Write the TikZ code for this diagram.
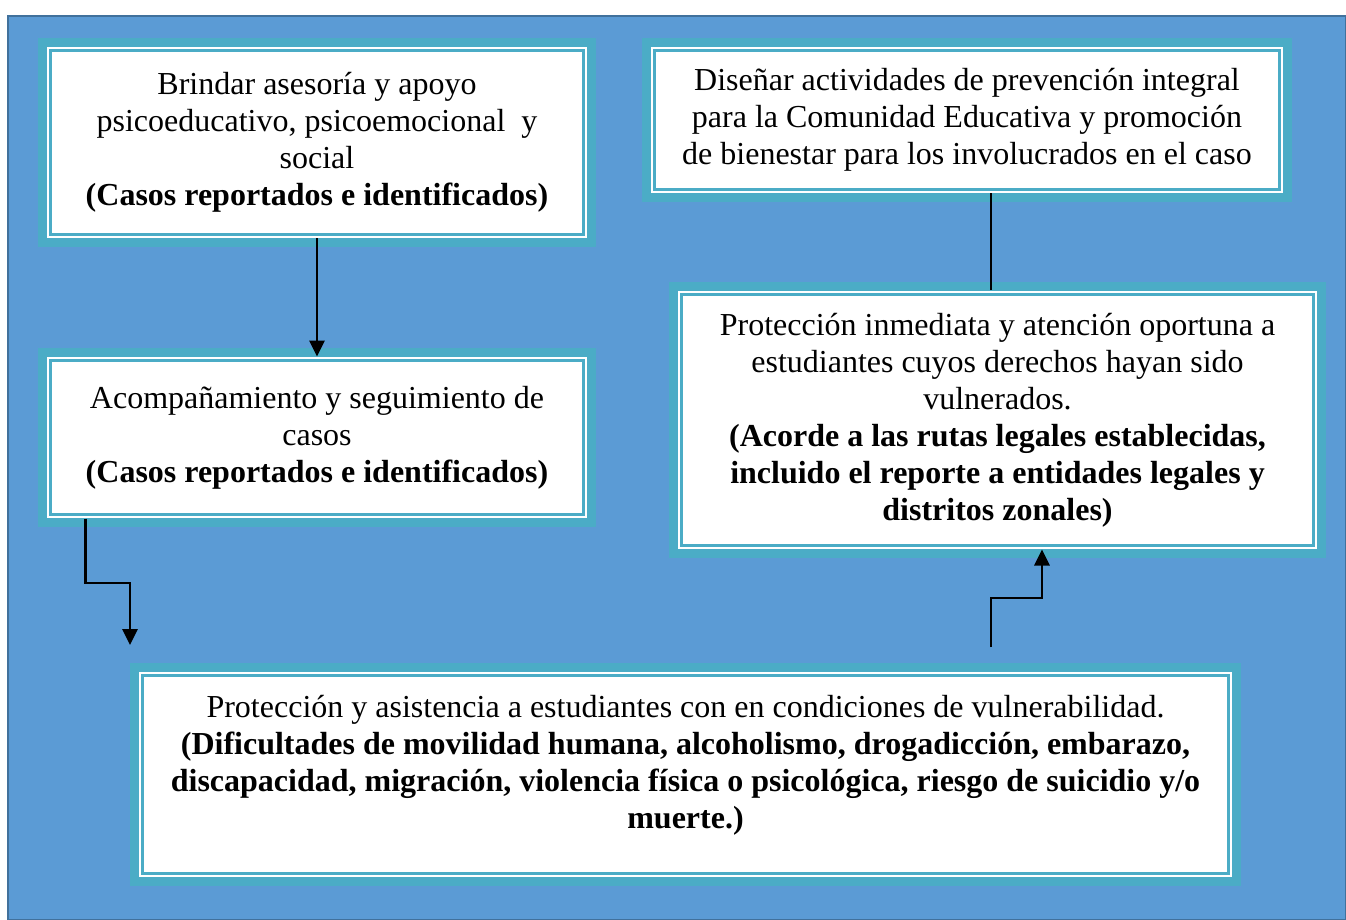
\documentclass[tikz,border=0pt]{standalone}
\usepackage{fontspec}
\setmainfont{Liberation Serif}
\usetikzlibrary{arrows.meta,calc}
\definecolor{fondo}{HTML}{5B9BD5}
\definecolor{borde}{HTML}{41719C}
\definecolor{turq}{HTML}{4BACC6}
\tikzset{
  caja/.style={draw=turq, line width=1.5pt, double=white, double distance=1pt,
    fill=white, preaction={draw=turq, line width=10pt}, inner sep=0pt,
    align=center, font=\fontsize{16pt}{18.5pt}\selectfont},
  flecha/.style={line width=1.4pt, -{Triangle[length=8pt,width=7.5pt]}},
  linea/.style={line width=1.4pt}
}
\begin{document}
\begin{tikzpicture}[x=0.5pt,y=-0.5pt]
    \useasboundingbox (0,0) rectangle (1346,920);
    \fill[fondo, draw=borde, line width=1pt](8,16) rectangle (1346,920);

        \node[caja, minimum width=269pt, minimum height=94.5pt] (b1) at(317,142.5)
            {Brindar asesoría y apoyo\\psicoeducativo, psicoemocional~ y\\social\\\textbf{(Casos reportados e identificados)}};
        \node[caja, minimum width=269pt, minimum height=79.5pt] (b2) at(317,437.5)
            {Acompañamiento y seguimiento de\\casos\\\textbf{(Casos reportados e identificados)}};

        \node[caja, minimum width=315pt, minimum height=72pt] (b3) at(967,120)
            {Diseñar actividades de prevención integral\\para la Comunidad Educativa y promoción\\de bienestar para los involucrados en el caso};
        \node[caja, minimum width=318.5pt, minimum height=128pt] (b4) at(997.5,420)
            {Protección inmediata y atención oportuna a\\estudiantes cuyos derechos hayan sido\\vulnerados.\\\textbf{(Acorde a las rutas legales establecidas,}\\\textbf{incluido el reporte a entidades legales y}\\\textbf{distritos zonales)}};

        \node[caja, minimum width=545.5pt, minimum height=101.5pt] (b5) at(685.5,774.5)
            {Protección y asistencia a estudiantes con en condiciones de vulnerabilidad.\\\textbf{(Dificultades de movilidad humana, alcoholismo, drogadicción, embarazo,}\\\textbf{discapacidad, migración, violencia física o psicológica, riesgo de suicidio y/o}\\\textbf{muerte.)}\\[-6pt]};

        % conectores
        \draw[flecha](b1.south) to (b2.north);

        \coordinate (f2) at(130,645);
        \draw[flecha]($(b2.south west)+(39,0)$) |- (130,583) to (f2);

        \coordinate (i3) at(991,647);
        \coordinate (m3) at(1042,598);
        \draw[flecha](i3) |- (m3) to (b4.south -| m3);

        \coordinate (l4) at(991,0);
        \draw[linea](b3.south -| l4) to (b4.north -| l4);
\end{tikzpicture}
\end{document}
